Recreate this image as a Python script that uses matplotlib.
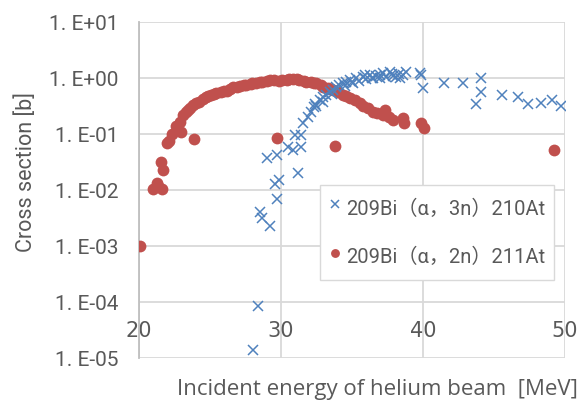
import matplotlib
matplotlib.use("Agg")
import matplotlib.pyplot as plt

# 209Bi(a,3n)210At  (blue crosses)
e_3n = [28.04, 28.4, 28.5, 28.7, 29.2, 29.0, 29.7, 29.56, 29.87, 29.7, 31.2,
        30.5, 30.85, 31.44, 31.0, 31.44, 31.55, 31.9, 32.15, 32.4, 32.5, 32.73,
        32.96, 33.2, 33.43, 33.7, 33.9, 34.1, 34.37, 34.6, 34.84, 35.1, 35.3,
        35.5, 35.77, 36.0, 36.24, 36.5, 36.7, 36.95, 37.18, 37.4, 37.65, 37.9,
        38.1, 38.35, 38.6, 38.8, 39.9, 40.0, 41.5, 42.8, 44.1, 44.1, 43.75,
        45.6, 46.7, 47.4, 48.3, 49.1, 49.7, 32.3, 33.0, 33.6, 34.5, 35.0,
        35.9, 36.4, 37.0, 37.8, 38.4, 39.8]
xs_3n = [1.4e-5, 8.5e-5, 0.0041, 0.0032, 0.0023, 0.037, 0.0068, 0.013, 0.015,
         0.042, 0.020, 0.059, 0.052, 0.059, 0.095, 0.095, 0.155, 0.20, 0.25,
         0.35, 0.31, 0.41, 0.46, 0.50, 0.57, 0.62, 0.70, 0.75, 0.80, 0.85, 0.92,
         0.80, 0.99, 0.90, 1.05, 0.95, 1.13, 1.00, 1.09, 1.15, 1.21, 1.05, 1.29,
         1.10, 1.05, 1.20, 1.13, 1.29, 1.13, 0.66, 0.80, 0.80, 0.99, 0.57, 0.35,
         0.50, 0.46, 0.35, 0.36, 0.41, 0.31, 0.30, 0.38, 0.52, 0.72, 0.85,
         1.12, 1.02, 0.98, 1.18, 1.00, 1.22]

# 209Bi(a,2n)211At  (red dots)
e_2n = [20.07, 21.0, 21.6, 21.25, 21.34, 21.55, 21.7, 22.0, 22.3, 22.95, 23.9,
        22.9, 23.1, 23.47, 23.8, 24.2, 24.5, 24.76, 25.1, 25.46, 25.8, 26.17,
        26.63, 27.1, 27.57, 28.0, 28.28, 28.7, 29.2, 29.9, 30.4, 30.85, 31.3,
        31.8, 32.1, 32.5, 32.96, 33.3, 33.66, 34.37, 34.84, 35.54, 35.77, 36.1,
        36.48, 37.18, 37.3, 37.9, 38.6, 38.7, 39.9, 40.1, 29.75, 33.83, 49.25,
        22.1, 22.6, 23.3, 23.6, 24.0, 24.9, 25.3, 26.0, 26.4, 26.9, 27.4,
        27.9, 28.5, 29.0, 29.5, 30.1, 30.6, 31.1, 31.6, 32.3, 32.8, 33.5,
        34.0, 34.6, 35.2, 36.8, 37.6]
xs_2n = [1.0e-3, 0.0103, 0.0103, 0.0135, 0.0118, 0.031, 0.023, 0.068, 0.102,
         0.110, 0.080, 0.166, 0.22, 0.27, 0.33, 0.38, 0.42, 0.46, 0.50, 0.54,
         0.57, 0.59, 0.68, 0.72, 0.75, 0.80, 0.80, 0.85, 0.92, 0.90, 0.93, 0.95,
         0.92, 0.86, 0.84, 0.80, 0.70, 0.66, 0.61, 0.50, 0.44, 0.355, 0.31, 0.29,
         0.25, 0.22, 0.27, 0.178, 0.19, 0.155, 0.155, 0.13, 0.086, 0.061, 0.052,
         0.075, 0.14, 0.25, 0.29, 0.36, 0.47, 0.52, 0.58, 0.63, 0.70, 0.74,
         0.78, 0.84, 0.88, 0.91, 0.94, 0.97, 0.96, 0.90, 0.83, 0.75, 0.64,
         0.56, 0.47, 0.40, 0.24, 0.20]

x_ticks = [20, 30, 40, 50]
y_ticks = [1e-5, 1e-4, 1e-3, 1e-2, 1e-1, 1e0, 1e1]
y_labels = ["1. E-05", "1. E-04", "1. E-03", "1. E-02", "1. E-01", "1. E+00",
            "1. E+01"]

blue = "#4F81BD"
red = "#C0504D"
grid_c = "#D9D9D9"
text_c = "#595959"
fam = ["Roboto", "Noto Sans CJK JP"]

fig = plt.figure(figsize=(5.86, 4.0), dpi=100)
ax = fig.add_axes([0.237, 0.105, 0.727, 0.84])

ax.plot(e_2n, xs_2n, "o", color=red, markersize=8.5, markeredgewidth=0,
        zorder=3, label="209Bi（α，2n）211At")
ax.plot(e_3n, xs_3n, "x", color=blue, markersize=7.5, markeredgewidth=1.1,
        zorder=4, label="209Bi（α，3n）210At")

ax.set_yscale("log")
ax.set_xlim(20, 50)
ax.set_ylim(1e-5, 1e1)
ax.set_xticks(x_ticks)
ax.set_yticks(y_ticks)
ax.set_yticklabels(y_labels, family=fam, fontsize=15, color=text_c)
ax.minorticks_off()
ax.tick_params(axis="both", length=0)
ax.tick_params(axis="y", pad=15)
ax.tick_params(axis="x", pad=14, labelsize=15, labelcolor=text_c)
for lab in ax.get_xticklabels():
    lab.set_family("Roboto")

ax.grid(True, color=grid_c, linewidth=1.3, zorder=0)
ax.set_axisbelow(True)
for s in ["top", "right"]:
    ax.spines[s].set_visible(False)
ax.spines["bottom"].set_position(("data", 1e-4))
ax.spines["bottom"].set_visible(False)
ax.spines["left"].set_color("#BFBFBF")
ax.spines["left"].set_linewidth(1.3)

fig.text(0.045, 0.57, "Cross section [b]", family="Roboto", size=15.5,
         color=text_c, rotation=90, ha="center", va="center")
fig.text(0.302, 0.0125, "Incident energy of helium beam  [MeV]",
         family="Open Sans", fontsize=16, color=text_c, ha="left",
         va="baseline")

h, l = ax.get_legend_handles_labels()
leg = ax.legend(h[::-1], l[::-1], loc="upper left", bbox_to_anchor=(0.425, 0.515),
                prop={"family": fam, "size": 14.5}, labelcolor=text_c,
                frameon=True, fancybox=False, edgecolor=grid_c, framealpha=1,
                borderpad=0.45, labelspacing=1.0, handlelength=0.55,
                handleheight=1.8, handletextpad=0.3, borderaxespad=0,
                markerscale=0.75)
leg.get_frame().set_linewidth(1.0)

fig.savefig("out.png", dpi=100)
